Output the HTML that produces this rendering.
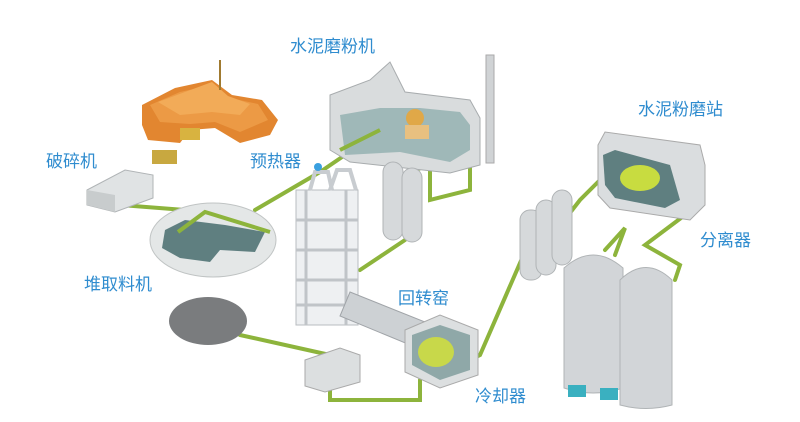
<!DOCTYPE html>
<html><head><meta charset="utf-8"><style>
html,body{margin:0;padding:0;background:#fff;}
svg{display:block}
text{font-family:"Liberation Sans","Noto Sans CJK SC",sans-serif;font-size:17px;fill:#2f8ccf}
</style></head><body>
<svg width="800" height="422" viewBox="0 0 800 422" xmlns="http://www.w3.org/2000/svg">
<!-- conveyors / pipes -->
<g stroke="#8db43c" stroke-width="4" fill="none" stroke-linecap="round">
<path d="M120,205 L185,210"/>
<path d="M255,210 L320,172 L345,155"/>
<path d="M415,170 L430,165 L430,200 L470,190 L470,165"/>
<path d="M360,270 L405,240"/>
<path d="M240,335 L330,355"/>
<path d="M330,385 L330,400 L420,400 L420,380"/>
<path d="M470,360 L480,355 L530,240"/>
<path d="M545,245 L580,200 L610,170"/>
<path d="M680,205 L685,215 L645,245 L680,265 L675,280"/>
<path d="M605,250 L625,228 L615,255"/>
</g>
<!-- quarry -->
<polygon points="142,105 175,88 212,80 232,95 262,100 278,120 270,135 240,143 215,128 190,130 180,143 148,140 142,125" fill="#e28630"/>
<polygon points="150,105 180,92 212,85 230,98 258,104 268,120 240,132 215,122 190,124 160,122" fill="#ec9a45"/>
<polygon points="158,102 185,92 212,82 228,96 250,104 240,115 212,112 180,115" fill="#f2ab58"/>
<rect x="219" y="60" width="2" height="30" fill="#a07a30"/>
<rect x="180" y="128" width="20" height="12" fill="#d8b340"/>
<rect x="152" y="150" width="25" height="14" fill="#c8a840"/>
<!-- crusher -->
<polygon points="87,190 125,170 153,175 153,198 115,212 87,205" fill="#e0e3e4" stroke="#b0b4b6"/>
<polygon points="87,190 115,195 115,212 87,205" fill="#c8cccd"/>
<!-- stockpile -->
<ellipse cx="213" cy="240" rx="63" ry="37" fill="#e4e7e7" stroke="#c0c4c4"/>
<polygon points="165,230 185,220 225,225 265,232 255,252 220,250 210,262 180,258 162,248" fill="#5f7f80"/>
<path d="M178,232 L205,212 L270,232" stroke="#8db43c" stroke-width="4" fill="none"/>
<!-- dark pile -->
<ellipse cx="208" cy="321" rx="39" ry="24" fill="#7a7c7e"/>
<!-- small building -->
<polygon points="305,360 340,348 360,355 360,382 325,392 305,386" fill="#dcdfe0" stroke="#aaa"/>
<!-- preheater tower -->
<rect x="296" y="190" width="62" height="135" fill="#eef0f2" stroke="#b8bcc0"/>
<g stroke="#c0c4c8" stroke-width="3"><line x1="296" y1="220" x2="358" y2="220"/><line x1="296" y1="250" x2="358" y2="250"/><line x1="296" y1="280" x2="358" y2="280"/><line x1="296" y1="305" x2="358" y2="305"/><line x1="306" y1="190" x2="306" y2="325"/><line x1="346" y1="190" x2="346" y2="325"/></g>
<path d="M310,190 L315,172 L328,172 L332,190 M330,190 L337,170 L350,170 L356,190" fill="none" stroke="#c8ccd0" stroke-width="4"/>
<circle cx="318" cy="167" r="4" fill="#3aa0e0"/>
<!-- kiln -->
<polygon points="350,292 425,322 415,347 340,316" fill="#cdd1d4" stroke="#a0a4a8"/>
<!-- cooler building -->
<polygon points="405,330 440,315 478,330 478,375 440,388 405,372" fill="#dcdfe0" stroke="#aaa"/>
<polygon points="412,335 440,325 470,335 470,370 440,380 412,365" fill="#8fa8a8"/>
<ellipse cx="436" cy="352" rx="18" ry="15" fill="#c8d84a"/>
<!-- raw mill building -->
<polygon points="330,95 370,80 390,62 405,92 470,100 480,118 480,165 450,173 350,162 330,150" fill="#d9dcdd" stroke="#a8acae"/>
<polygon points="340,115 380,108 420,108 460,112 470,125 470,150 450,162 400,152 345,155" fill="#9fb8b8"/>
<circle cx="415" cy="118" r="9" fill="#e0a848"/>
<rect x="405" y="125" width="24" height="14" fill="#e8c080"/>
<path d="M340,150 L380,130" stroke="#8db43c" stroke-width="4"/>
<rect x="486" y="55" width="8" height="108" fill="#d0d3d5" stroke="#aaa"/>
<!-- silos 1 -->
<g fill="#d6d9db" stroke="#b0b4b6"><rect x="383" y="162" width="20" height="78" rx="10"/><rect x="402" y="168" width="20" height="74" rx="10"/></g>
<!-- silos 2 -->
<g fill="#d6d9db" stroke="#b0b4b6"><rect x="520" y="210" width="22" height="70" rx="10"/><rect x="536" y="200" width="20" height="75" rx="10"/><rect x="552" y="190" width="20" height="75" rx="10"/></g>
<!-- cement mill station -->
<polygon points="598,145 605,132 700,145 705,165 705,205 690,220 610,208 598,195" fill="#dadddf" stroke="#aaa"/>
<polygon points="603,155 615,150 670,165 680,200 665,208 615,198 605,185" fill="#5f7f80"/>
<ellipse cx="640" cy="178" rx="20" ry="13" fill="#c8dc40"/>
<!-- big silos -->
<g fill="#d2d5d8" stroke="#b0b4b6">
<path d="M564,268 Q593,242 623,268 L623,388 Q593,398 564,388 Z"/>
<path d="M620,280 Q646,255 672,280 L672,405 Q646,412 620,405 Z"/>
</g>
<rect x="568" y="385" width="18" height="12" fill="#3ab0c0"/>
<rect x="600" y="388" width="18" height="12" fill="#3ab0c0"/>
<!-- labels -->
<text x="290" y="52">水泥磨粉机</text>
<text x="638" y="115">水泥粉磨站</text>
<text x="46" y="167">破碎机</text>
<text x="250" y="167">预热器</text>
<text x="700" y="246">分离器</text>
<text x="84" y="290">堆取料机</text>
<text x="398" y="304">回转窑</text>
<text x="475" y="402">冷却器</text>
</svg>
</body></html>
